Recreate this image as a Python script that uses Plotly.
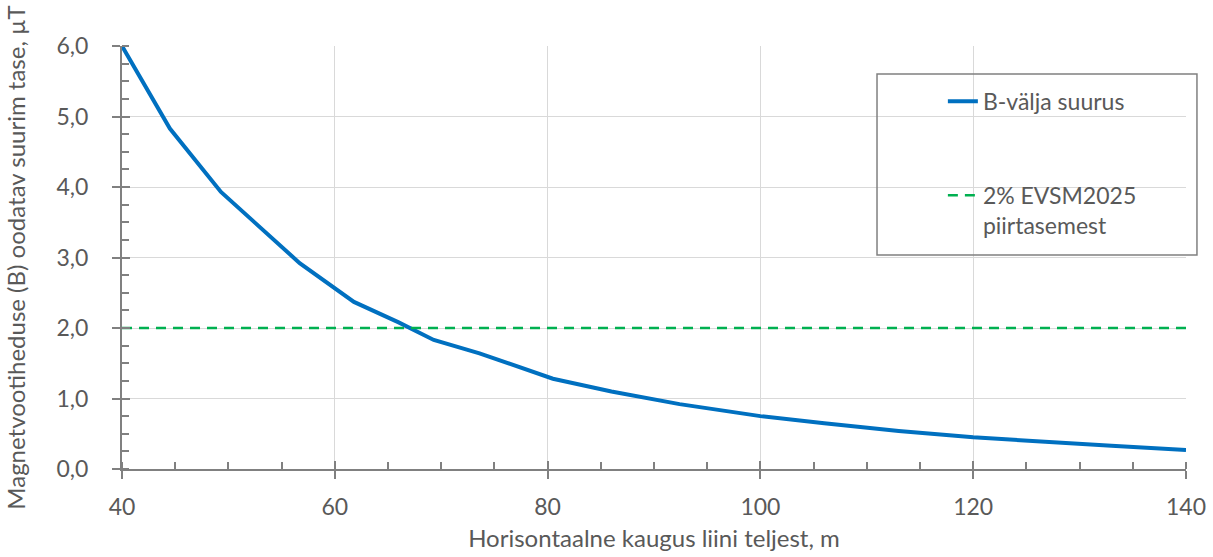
import plotly.graph_objects as go

# Horizontal distance from the line axis, m
distance_m = [40, 44.5, 49.3, 56.7, 61.8, 66, 69.3, 73.6, 80.5, 86, 92.4,
              100, 106, 113, 120, 127, 133, 140]
# Expected maximum magnetic flux density, µT
b_field_uT = [6.0, 4.83, 3.93, 2.92, 2.37, 2.08, 1.83, 1.64, 1.28, 1.10, 0.92,
              0.75, 0.65, 0.54, 0.45, 0.38, 0.33, 0.27]

# 2% of the EVSM2025 limit level
limit_x = [40, 140]
limit_y = [2.0, 2.0]

x_ticks = [40, 60, 80, 100, 120, 140]
y_ticks = [0, 1, 2, 3, 4, 5, 6]

FONT = "Lato"
TEXT = "#595959"
AXIS = "#808080"
GRID = "#D9D9D9"

fig = go.Figure()

fig.add_trace(go.Scatter(
    x=distance_m, y=b_field_uT, mode="lines", name="B-välja suurus",
    line=dict(color="#0070C0", width=4), legendgroup="a", cliponaxis=False,
))
fig.add_trace(go.Scatter(
    x=limit_x, y=limit_y, mode="lines", name="2% EVSM2025<br>piirtasemest",
    line=dict(color="#00B050", width=2.5, dash="10px,7px"), legendgroup="b",
))

tick_font = dict(family=FONT, size=23, color=TEXT)
title_font = dict(family=FONT, size=24, color=TEXT)

fig.update_layout(
    width=1213, height=557,
    margin=dict(l=122, r=27, t=46, b=88),
    paper_bgcolor="white", plot_bgcolor="white",
    separators=", ",
    font=dict(family=FONT, size=23, color=TEXT),
    xaxis=dict(
        range=[40, 140], tickvals=x_ticks, tickfont=tick_font,
        automargin=False,
        showgrid=True, gridcolor=GRID, gridwidth=1, zeroline=False,
        showline=True, linecolor=AXIS, linewidth=2,
        ticks="outside", ticklen=8, tickwidth=2, tickcolor=AXIS,
        ticklabelstandoff=8,
        minor=dict(dtick=5, tick0=40, ticks="inside", ticklen=7,
                   tickwidth=2, tickcolor=AXIS, showgrid=False),
        title=dict(text="Horisontaalne kaugus liini teljest, m",
                   font=title_font, standoff=12),
    ),
    yaxis=dict(
        range=[0, 6], tickvals=y_ticks, tickformat=".1f", tickfont=tick_font,
        automargin=False,
        showgrid=True, gridcolor=GRID, gridwidth=1, zeroline=False,
        showline=True, linecolor=AXIS, linewidth=2,
        ticks="outside", ticklen=8, tickwidth=2, tickcolor=AXIS,
        ticklabelstandoff=19,
        minor=dict(dtick=0.25, tick0=0, ticks="inside", ticklen=7,
                   tickwidth=2, tickcolor=AXIS, showgrid=False),
        title=dict(text="Magnetvootiheduse (B) oodatav suurim tase, µT",
                   font=title_font, standoff=24),
    ),
    # overlay axes that give the major ticks their inner half
    xaxis2=dict(overlaying="x", range=[40, 140], tickvals=x_ticks,
                showticklabels=False, showgrid=False, zeroline=False,
                ticks="inside", ticklen=8, tickwidth=2, tickcolor=AXIS,
                anchor="y", side="bottom", automargin=False),
    yaxis2=dict(overlaying="y", range=[0, 6], tickvals=y_ticks,
                showticklabels=False, showgrid=False, zeroline=False,
                ticks="inside", ticklen=8, tickwidth=2, tickcolor=AXIS,
                anchor="x", side="left", automargin=False),
    legend=dict(
        x=0.7715, y=0.92, xanchor="left", yanchor="top",
        bgcolor="rgba(0,0,0,0)", borderwidth=0,
        font=dict(family=FONT, size=23, color=TEXT),
        tracegroupgap=61, valign="top",
    ),
    shapes=[dict(type="rect", xref="paper", yref="paper",
                 x0=0.7096, x1=1.0103, y0=0.506, y1=0.934,
                 line=dict(color="#808080", width=1.5),
                 fillcolor="rgba(0,0,0,0)", layer="above")],
)

# invisible trace so the overlay axes are drawn
fig.add_trace(go.Scatter(x=[40], y=[0], xaxis="x2", yaxis="y2", mode="none",
                         showlegend=False, hoverinfo="skip"))

fig.write_html("out.html")
